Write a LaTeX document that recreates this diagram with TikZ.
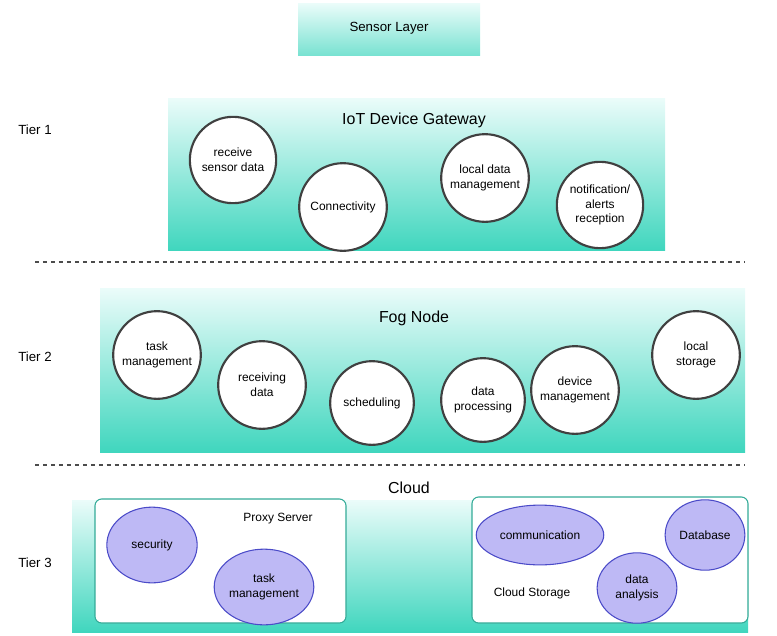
\documentclass[tikz,border=0pt]{standalone}
\usepackage{fontspec}
\setmainfont{Liberation Sans}
\usetikzlibrary{shapes.geometric}
\definecolor{tealmain}{RGB}{64,214,190}
\definecolor{tealpale}{RGB}{235,252,250}
\definecolor{lavender}{RGB}{190,185,245}
\definecolor{bordblue}{RGB}{75,75,200}
\tikzset{
  layer/.style={top color=tealpale, bottom color=tealmain, draw=none},
  task/.style={circle, draw=black!75, line width=1.6pt, fill=white, align=center, font=\small, inner sep=0pt},
  svc/.style={ellipse, draw=bordblue, line width=0.8pt, fill=lavender, align=center, font=\small, inner sep=0pt},
  inner/.style={draw=tealmain!80!black, fill=white, rounded corners=5pt, line width=0.8pt},
  tier/.style={font=\normalsize},
  sep/.style={dashed, line width=1pt, black!70}
}
\begin{document}
\begin{tikzpicture}[x=0.02646cm, y=-0.02646cm]
\useasboundingbox (0,0) rectangle (777,635);

% sensor layer
\shade[top color=tealpale, bottom color=tealmain!70] (298,3) rectangle (480,55);
\node (sensor) at (389,28) {Sensor Layer};

% tier 1
\node[tier] (t1) at (35,130) {Tier 1};
\shade[layer] (168,98) rectangle (665,250);
\node[font=\large] (gw) at (414,120) {IoT Device Gateway};
\node[task, minimum size=65pt] (recv) at (233,160) {receive\\sensor data};
\node[task, minimum size=66pt] (conn) at (343,207) {Connectivity};
\node[task, minimum size=66pt] (ldm) at (485,178) {local data\\management};
\node[task, minimum size=65pt] (notif) at (600,205) {notification/\\alerts\\reception};
\coordinate (d1a) at (35,262); \coordinate (d1b) at (745,262);
\draw[sep] (d1a) -- (d1b);

% tier 2
\node[tier] (t2) at (35,357) {Tier 2};
\shade[layer] (100,288) rectangle (745,452);
\node[font=\large] (fog) at (414,318) {Fog Node};
\node[task, minimum size=66pt] (tm) at (157,355) {task\\management};
\node[task, minimum size=66pt] (rd) at (262,385) {receiving\\data};
\node[task, minimum size=63pt] (sch) at (372,403) {scheduling};
\node[task, minimum size=63pt] (dp) at (483,400) {data\\processing};
\node[task, minimum size=66pt] (dm) at (575,390) {device\\management};
\node[task, minimum size=66pt] (ls) at (696,355) {local\\storage};
\coordinate (d2a) at (35,465); \coordinate (d2b) at (745,465);
\draw[sep] (d2a) -- (d2b);

% tier 3
\node[tier] (t3) at (35,563) {Tier 3};
\shade[layer] (72,500) rectangle (748,632);
\node[font=\large] (cloud) at (409,488) {Cloud};
\draw[inner] (95,499) rectangle (346,623);
\node[font=\small] (proxy) at (278,519) {Proxy Server};
\node[svc, minimum width=68pt, minimum height=57pt] (sec) at (152,545) {security};
\node[svc, minimum width=75pt, minimum height=57pt] (tm3) at (264,587) {task\\management};
\draw[inner] (472,497) rectangle (748,623);
\node[font=\small] (cs) at (532,593) {Cloud Storage};
\node[svc, minimum width=96pt, minimum height=45pt] (comm) at (540,535) {communication};
\node[svc, minimum width=60pt, minimum height=53pt] (da) at (637,588) {data\\analysis};
\node[svc, minimum width=60pt, minimum height=53pt] (db) at (705,535) {Database};
\end{tikzpicture}
\end{document}
